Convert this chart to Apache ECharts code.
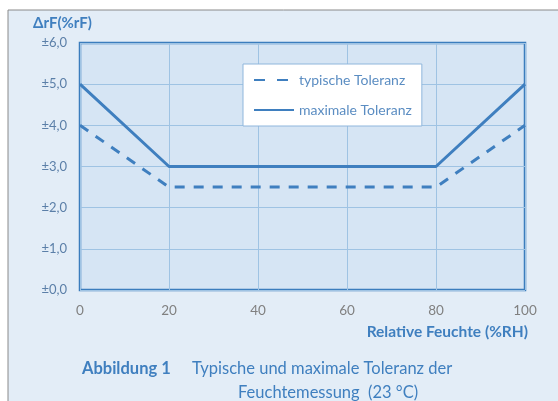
<!DOCTYPE html>
<html>
<head>
<meta charset="utf-8">
<script src="https://cdn.jsdelivr.net/npm/echarts@6/dist/echarts.min.js"></script>
<style>
html,body{margin:0;padding:0;background:#fff;}
#chart{width:558px;height:401px;}
</style>
</head>
<body>
<div id="chart"></div>
<script>
var humidity = [0, 20, 40, 60, 80, 100];
var typischeToleranz = [4.0, 2.5, 2.5, 2.5, 2.5, 4.0];
var maximaleToleranz = [5.0, 3.0, 3.0, 3.0, 3.0, 5.0];
var seriesNames = ['typische Toleranz', 'maximale Toleranz'];

var chart = echarts.init(document.getElementById('chart'));
var font = 'Lato, "Open Sans", sans-serif';
var lineColor = '#3f7fbf';

var pairs = function (ys) {
	return humidity.map(function (x, i) { return [x, ys[i]]; });
};

var option = {
	backgroundColor: '#fff',
	textStyle: { fontFamily: font },
	graphic: [
		{
			type: 'rect', z: -10, silent: true,
			shape: { x: 8, y: 10, width: 560, height: 400 },
			style: { fill: '#e3edf7', stroke: '#8a8a8a', lineWidth: 1 }
		},
		{
			type: 'text', left: 82, top: 360,
			style: { text: 'Abbildung 1', font: 'bold 16.5px ' + font, fill: '#3f7fbf' }
		},
		{
			type: 'text', left: 192, top: 360,
			style: { text: 'Typische und maximale Toleranz der', font: '16.5px ' + font, fill: '#3f7fbf' }
		},
		{
			type: 'text', left: 238, top: 384,
			style: { text: 'Feuchtemessung  (23 °C)', font: '16.5px ' + font, fill: '#3f7fbf' }
		}
	],
	legend: {
		data: [
			{ name: seriesNames[0], lineStyle: { type: [11, 12] } },
			{ name: seriesNames[1] }
		],
		orient: 'vertical',
		left: 243, top: 64,
		width: 180,
		padding: [9, 10, 9, 10],
		itemGap: 16,
		itemWidth: 40, itemHeight: 14,
		itemStyle: { opacity: 0 },
		backgroundColor: '#fff',
		borderColor: '#8fb6dc', borderWidth: 1,
		textStyle: { color: '#5b8dc2', fontSize: 14, fontFamily: font }
	},
	grid: { left: 80, right: 33, top: 43, bottom: 111, show: true,
		backgroundColor: '#d6e5f4', borderColor: '#3b7dbd', borderWidth: 2.5 },
	xAxis: {
		type: 'value', min: 0, max: 100, interval: 20,
		name: 'Relative Feuchte (%RH)', nameLocation: 'end',
		nameGap: 0,
		nameTextStyle: { color: '#3f7fbf', fontWeight: 'bold', fontSize: 15.5,
			align: 'right', verticalAlign: 'top', padding: [34, -3, 0, 0] },
		axisLine: { show: false }, axisTick: { show: false },
		axisLabel: { color: '#808080', fontSize: 13.5, margin: 14 },
		splitLine: { lineStyle: { color: '#9fc3e3', width: 1 } }
	},
	yAxis: {
		type: 'value', min: 0, max: 6, interval: 1,
		name: 'ΔrF(%rF)', nameLocation: 'end', nameGap: 12,
		nameTextStyle: { color: '#3f7fbf', fontWeight: 'bold', fontSize: 15,
			align: 'left', padding: [0, 0, 0, -47] },
		axisLine: { show: false }, axisTick: { show: false },
		axisLabel: { color: '#5b7fa8', fontSize: 13, margin: 13,
			formatter: function (v) { return '±' + v.toFixed(1).replace('.', ','); } },
		splitLine: { lineStyle: { color: '#9fc3e3', width: 1 } }
	},
	series: [
		{
			name: seriesNames[0], type: 'line', data: pairs(typischeToleranz),
			symbol: 'none', color: lineColor,
			lineStyle: { width: 3, type: [10, 9], color: lineColor }
		},
		{
			name: seriesNames[1], type: 'line', data: pairs(maximaleToleranz),
			symbol: 'none', color: lineColor,
			lineStyle: { width: 3, color: lineColor }
		}
	]
};
chart.setOption(option);
</script>
</body>
</html>
